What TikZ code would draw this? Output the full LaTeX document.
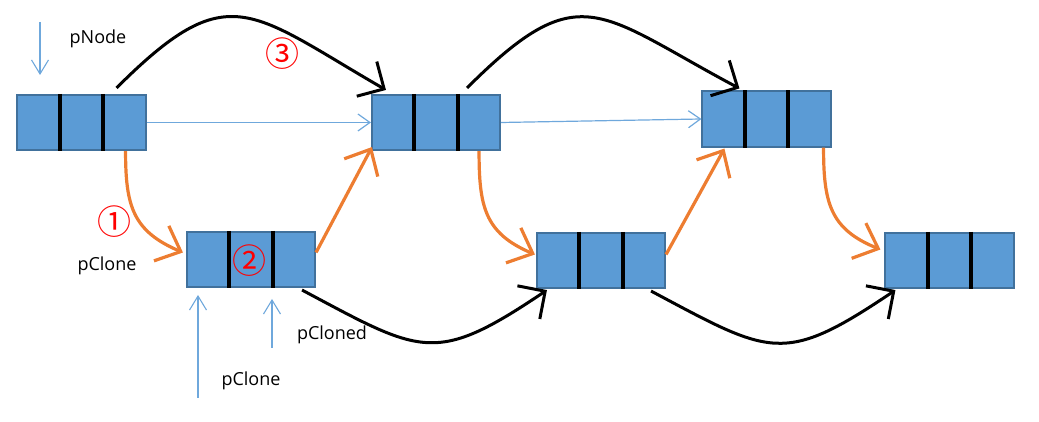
\documentclass[tikz,border=0pt]{standalone}
\usepackage{fontspec}
\setmainfont{Open Sans}
\newfontfamily\cjk{Noto Sans CJK SC}
\usetikzlibrary{arrows.meta,calc}
\definecolor{cellblue}{HTML}{5B9BD5}
\definecolor{cellline}{HTML}{41719C}
\definecolor{linkorange}{HTML}{ED7D31}
\definecolor{ptrblue}{HTML}{6FA8DC}

\begin{document}
\begin{tikzpicture}[x=1pt,y=1pt,
  cell/.style={draw=cellline,line width=1.6pt,fill=cellblue,minimum width=128.5pt,minimum height=55.5pt,inner sep=0pt},
  divider/.style={line width=4pt},
  nextlink/.style={draw=ptrblue,line width=1.2pt,-{Straight Barb[length=12pt,width=17pt]}},
  pointer/.style={draw=ptrblue,line width=1.1pt,-{Straight Barb[length=14pt,width=17pt]}},
  randlink/.style={line width=3pt,-{Straight Barb[length=20pt,width=40pt]}},
  clonelink/.style={draw=linkorange,line width=3.2pt,-{Straight Barb[length=21pt,width=38pt]}},
  txt/.style={font=\fontsize{18}{20}\selectfont,inner sep=0pt},
  stepnum/.style={text=red,font=\cjk\fontsize{34}{36}\selectfont,inner sep=0pt}]
\useasboundingbox (0,0) rectangle (1039,422);

\node[cell](A) at (81.5,299.5){};
\node[cell](B) at (436,299.5){};
\node[cell](C) at (766.5,303){};
\node[cell](D) at (251,162.5){};
\node[cell](E) at (601,161.5){};
\node[cell](F) at (949.5,161.5){};
\foreach \n in {A,B,C,D,E,F}{
  \draw[divider] ($(\n.north west)!1/3!(\n.north east)$) -- ($(\n.south west)!1/3!(\n.south east)$);
  \draw[divider] ($(\n.north west)!2/3!(\n.north east)$) -- ($(\n.south west)!2/3!(\n.south east)$);
}

\draw[nextlink] (A.east) -- (B.west);
\draw[nextlink] (B.east) -- (C.west);

\draw[randlink] ([xshift=-30pt,yshift=6pt]A.north east) to[out=45,in=150,looseness=1.5] ([xshift=15pt,yshift=4pt]B.north west);
\draw[randlink] ([xshift=-34pt,yshift=6pt]B.north east) to[out=45,in=152,looseness=1.5] ([xshift=38pt,yshift=2pt]C.north west);
\draw[randlink] ([xshift=-14pt,yshift=-2pt]D.south east) to[out=-28,in=-146,looseness=1.42] ([xshift=11pt,yshift=-1pt]E.south west);
\draw[randlink] ([xshift=-15pt,yshift=-2pt]E.south east) to[out=-28,in=-146,looseness=1.42] ([xshift=11pt,yshift=-1pt]F.south west);

\draw[clonelink] ([xshift=-21pt]A.south east) to[out=-90,in=157,looseness=1.2] ([xshift=-3pt,yshift=7pt]D.west);
\draw[clonelink] ([yshift=7pt]D.east) -- ([xshift=1pt,yshift=4pt]B.south west);
\draw[clonelink] ([xshift=-22pt]B.south east) to[out=-90,in=157,looseness=1.2] ([xshift=-1pt,yshift=6pt]E.west);
\draw[clonelink] ([yshift=6pt]E.east) -- ([xshift=23pt,yshift=-1pt]C.south west);
\draw[clonelink] ([xshift=-8pt]C.south east) to[out=-90,in=158,looseness=1.2] ([xshift=-4pt,yshift=11pt]F.west);

\coordinate (pnodetail) at (40,400);
\coordinate (pnodetip) at (40,347);
\coordinate (pclonetail) at (198,24);
\coordinate (pclonetip) at (198,127);
\coordinate (pclonedtail) at (272,74);
\coordinate (pclonedtip) at (272,123);
\draw[pointer] (pnodetail) -- (pnodetip);
\draw[pointer] (pclonetail) -- (pclonetip);
\draw[pointer] (pclonedtail) -- (pclonedtip);

\node[txt](pnodelabel) at (98,383){pNode};
\node[txt](pclonelabel) at (107,156.5){pClone};
\node[txt](pclonedlabel) at (332,87.5){pCloned};
\node[txt](pclonelow) at (251,41){pClone};

\node[stepnum](one) at (114,200){①};
\node[stepnum](two) at (249,161){②};
\node[stepnum](three) at (282,368){③};
\end{tikzpicture}
\end{document}
